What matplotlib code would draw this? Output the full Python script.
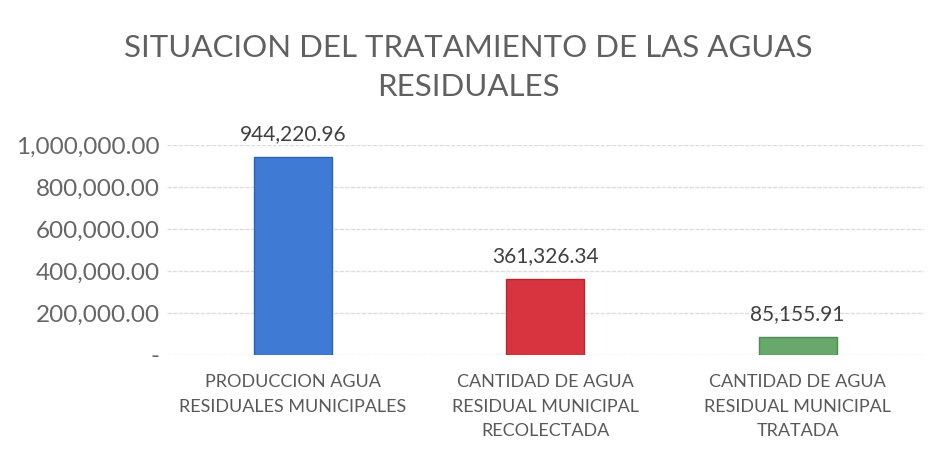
import matplotlib
matplotlib.use('Agg')
import matplotlib.pyplot as plt
from matplotlib.ticker import FuncFormatter

categorias = ['PRODUCCION AGUA\nRESIDUALES MUNICIPALES',
              'CANTIDAD DE AGUA\nRESIDUAL MUNICIPAL\nRECOLECTADA',
              'CANTIDAD DE AGUA\nRESIDUAL MUNICIPAL\nTRATADA']
valores = [944220.96, 361326.34, 85155.91]
colores = ['#3F7AD5', '#D8343F', '#68A86B']
bordes = ['#2F62B5', '#B8262F', '#4E8A52']
yticks = [0, 200000, 400000, 600000, 800000, 1000000]

plt.rcParams['font.family'] = ['Lato', 'DejaVu Sans']
gris = '#595959'

fig = plt.figure(figsize=(9.36, 4.58), dpi=100)
ax = fig.add_axes([0.178, 0.225, 0.809, 0.458])

x = range(len(valores))
bars = ax.bar(x, valores, width=0.31, color=colores, edgecolor=bordes, linewidth=1, zorder=3)

for b, v in zip(bars, valores):
    ax.text(b.get_x() + b.get_width() / 2, v + 60000, f'{v:,.2f}',
            ha='center', va='bottom', fontsize=15, color='#404040')

ax.set_xlim(-0.5, len(valores) - 0.5)
ax.set_ylim(0, 1000000)
ax.set_yticks(yticks)
ax.yaxis.set_major_formatter(FuncFormatter(lambda v, p: '-' if v == 0 else f'{v:,.2f}'))
ax.set_xticks(list(x))
ax.set_xticklabels(categorias, fontsize=13, color=gris, linespacing=1.65)
ax.tick_params(axis='y', labelsize=17.5, colors='#666666', length=0, pad=5)
ax.tick_params(axis='x', length=0, pad=14)
ax.grid(axis='y', color='#DDDDDD', linewidth=1, linestyle=(0, (3, 1)), zorder=0)
for s in ax.spines.values():
    s.set_visible(False)

fig.text(0.5, 0.925, 'SITUACION DEL TRATAMIENTO DE LAS AGUAS\nRESIDUALES',
         ha='center', va='top', fontsize=22.5, color='#606060', linespacing=1.45)

fig.savefig('out.png', dpi=100, facecolor='white')
